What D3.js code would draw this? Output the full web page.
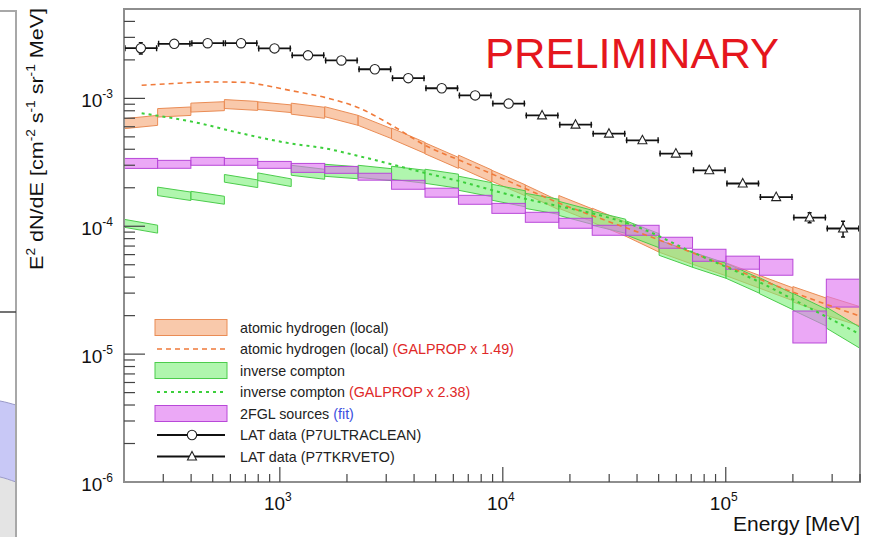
<!DOCTYPE html>
<html>
<head>
<meta charset="utf-8">
<script src="https://cdnjs.cloudflare.com/ajax/libs/d3/7.8.5/d3.min.js"></script>
<style>
  html, body { margin: 0; padding: 0; background: #fff; }
  svg { display: block; font-family: "Liberation Sans", Arial, Helvetica, sans-serif; }
</style>
</head>
<body>
<svg id="chart" width="871" height="537"></svg>
<script>
// histogram bin edges [MeV]
const binEdges = [200, 283, 399, 564, 796, 1125, 1589, 2244, 3170, 4477, 6325, 8933,
  12620, 17830, 25180, 35570, 50240, 70960, 100240, 141590, 200000, 282510, 399050];

// LAT data, E^2 dN/dE
const latUltraclean = [2.47e-3, 2.67e-3, 2.70e-3, 2.70e-3, 2.46e-3, 2.17e-3, 1.98e-3, 1.69e-3,
  1.44e-3, 1.20e-3, 1.055e-3, 9.1e-4];
const latUltracleanErr = [0.10, 0.02, 0.02, 0.02, 0.02, 0.02, 0.02, 0.02, 0.02, 0.02, 0.02, 0.02];
const latTkrveto = [7.36e-4, 6.23e-4, 5.3e-4, 4.70e-4, 3.70e-4, 2.74e-4, 2.16e-4, 1.69e-4, 1.17e-4, 9.6e-5];
const latTkrvetoErr = [0.02, 0.02, 0.02, 0.02, 0.02, 0.02, 0.03, 0.03, 0.09, 0.14];

// atomic hydrogen (local): band centre at bin left / right edge, half width in dex
const hiLeft = [6.34e-4, 7.71e-4, 8.47e-4, 9.03e-4, 8.77e-4, 8.31e-4, 7.87e-4, 6.73e-4, 5.31e-4, 4.07e-4,
  3.23e-4, 2.48e-4, 1.94e-4, 1.55e-4, 1.22e-4, 9.49e-5, 6.98e-5, 5.62e-5, 4.61e-5, 3.68e-5, 2.94e-5, 2.39e-5];
const hiRight = [6.73e-4, 7.94e-4, 8.69e-4, 8.73e-4, 8.30e-4, 7.71e-4, 6.73e-4, 5.30e-4, 4.10e-4, 3.13e-4,
  2.47e-4, 1.91e-4, 1.46e-4, 1.22e-4, 9.49e-5, 7.12e-5, 5.62e-5, 4.57e-5, 3.68e-5, 2.94e-5, 2.39e-5, 1.98e-5];
const hiWidth = [0.039, 0.033, 0.035, 0.035, 0.03, 0.043, 0.039, 0.039, 0.043, 0.043, 0.047,
  0.043, 0.035, 0.05, 0.055, 0.055, 0.047, 0.047, 0.05, 0.05, 0.06, 0.075];

// inverse compton
const icLeft = [1.055e-4, 1.875e-4, 1.746e-4, 2.37e-4, 2.44e-4, 2.74e-4, 2.74e-4, 2.69e-4, 2.62e-4, 2.46e-4,
  2.17e-4, 1.845e-4, 1.58e-4, 1.38e-4, 1.155e-4, 9.73e-5, 6.79e-5, 5.47e-5, 4.49e-5, 3.43e-5, 2.57e-5, 1.93e-5];
const icRight = [9.49e-5, 1.715e-4, 1.597e-4, 2.15e-4, 2.19e-4, 2.55e-4, 2.62e-4, 2.53e-4, 2.44e-4, 2.25e-4,
  1.93e-4, 1.64e-4, 1.42e-4, 1.175e-4, 1.0e-4, 7.71e-5, 5.47e-5, 4.49e-5, 3.43e-5, 2.57e-5, 1.93e-5, 1.345e-5];
const icWidth = [0.031, 0.033, 0.031, 0.03, 0.03, 0.039, 0.047, 0.047, 0.051, 0.055, 0.055,
  0.0625, 0.059, 0.055, 0.055, 0.055, 0.059, 0.059, 0.059, 0.0625, 0.066, 0.082];

// 2FGL sources (fit)
const srcValue = [3.10e-4, 3.05e-4, 3.22e-4, 3.19e-4, 3.02e-4, 2.86e-4, 2.76e-4, 2.44e-4, 2.11e-4, 1.83e-4,
  1.61e-4, 1.38e-4, 1.175e-4, 1.055e-4, 9.30e-5, 9.30e-5, 7.43e-5, 5.93e-5, 5.19e-5, 4.78e-5, 1.63e-5, 3.00e-5];
const srcWidth = [0.039, 0.031, 0.031, 0.027, 0.027, 0.035, 0.027, 0.027, 0.035, 0.035, 0.035,
  0.039, 0.039, 0.039, 0.039, 0.039, 0.043, 0.047, 0.051, 0.0625, 0.125, 0.109];

// GALPROP model curves
const hiGalE = [240, 340, 485, 700, 810, 1110, 1590, 2290, 3180, 4570, 6400, 9000, 12800, 18000,
  27200, 50600, 101000, 200000, 400000];
const hiGalV = [1.265e-3, 1.31e-3, 1.345e-3, 1.334e-3, 1.286e-3, 1.155e-3, 1.018e-3, 8.35e-4, 6.15e-4,
  4.22e-4, 3.28e-4, 2.55e-4, 1.95e-4, 1.51e-4, 1.155e-4, 7.78e-5, 4.87e-5, 3.05e-5, 1.98e-5];
const icGalE = [240, 438, 615, 1110, 1590, 2290, 3180, 4570, 6400, 9000, 12800, 18000, 25300, 38300,
  71100, 142000, 238000, 400000];
const icGalV = [7.64e-4, 6.38e-4, 5.52e-4, 4.45e-4, 4.07e-4, 3.52e-4, 3.05e-4, 2.59e-4, 2.25e-4, 1.91e-4,
  1.63e-4, 1.43e-4, 1.26e-4, 1.02e-4, 6.26e-5, 3.65e-5, 2.29e-5, 1.43e-5];

const xDomain = [200, 4e5];
const yDomain = [1e-6, 5e-3];

const legendItems = [
  { kind: "hi", text: "atomic hydrogen (local)", extra: "" },
  { kind: "hiGal", text: "atomic hydrogen (local) ", extra: "(GALPROP x 1.49)" },
  { kind: "ic", text: "inverse compton", extra: "" },
  { kind: "icGal", text: "inverse compton ", extra: "(GALPROP x 2.38)" },
  { kind: "src", text: "2FGL sources ", extra: "(fit)" },
  { kind: "uc", text: "LAT data (P7ULTRACLEAN)", extra: "" },
  { kind: "tv", text: "LAT data (P7TKRVETO)", extra: "" }
];

const svg = d3.select("#chart");
const frame = { left: 124, right: 860, top: 9, bottom: 482 };

const x = d3.scaleLog().domain(xDomain).range([frame.left, frame.right]);
const y = d3.scaleLog().domain(yDomain).range([frame.bottom, frame.top]);

const styles = {
  hi: { fill: "#f6b48a", opacity: 0.72, stroke: "#ea8c55" },
  ic: { fill: "#7cf078", opacity: 0.6, stroke: "#4ccc4c" },
  src: { fill: "#df72f0", opacity: 0.62, stroke: "#b848d8" }
};

// piece of the neighbouring panel cut off at the left
const side = svg.append("g");
side.append("path").attr("d", "M0,401 C6,402 12,404 16,405 L16,482 C10,480 5,478 0,477 Z")
  .attr("fill", "#c8c8f6");
side.append("path").attr("d", "M0,477 C5,478 10,480 16,482 L16,537 L0,537 Z").attr("fill", "#e4e4e4");
side.append("path").attr("d", "M0,401 C6,402 12,404 16,405").attr("fill", "none").attr("stroke", "#9a9ac8");
side.append("path").attr("d", "M0,477 C5,478 10,480 16,482").attr("fill", "none").attr("stroke", "#9a9ac8");
side.append("path").attr("d", "M0,11 H16 V537").attr("fill", "none").attr("stroke", "#a8a8a8").attr("stroke-width", 2);
side.append("line").attr("x1", 0).attr("x2", 16).attr("y1", 312).attr("y2", 312).attr("stroke", "#444").attr("stroke-width", 1.5);

const plot = svg.append("g");
const bins = binEdges.slice(0, -1).map((e0, i) => ({ e0, e1: binEdges[i + 1], i }));

function bandPath(lv, rv, w) {
  return d => {
    const f = Math.pow(10, w[d.i]);
    return `M${x(d.e0)},${y(lv[d.i] * f)}L${x(d.e1)},${y(rv[d.i] * f)}` +
      `L${x(d.e1)},${y(rv[d.i] / f)}L${x(d.e0)},${y(lv[d.i] / f)}Z`;
  };
}

// atomic hydrogen band
plot.append("g").selectAll("path").data(bins).join("path")
  .attr("d", bandPath(hiLeft, hiRight, hiWidth))
  .attr("fill", styles.hi.fill).attr("fill-opacity", styles.hi.opacity)
  .attr("stroke", styles.hi.stroke).attr("stroke-width", 1);

// inverse compton band
plot.append("g").selectAll("path").data(bins).join("path")
  .attr("d", bandPath(icLeft, icRight, icWidth))
  .attr("fill", styles.ic.fill).attr("fill-opacity", styles.ic.opacity)
  .attr("stroke", styles.ic.stroke).attr("stroke-width", 1);

// 2FGL sources
plot.append("g").selectAll("rect").data(bins).join("rect")
  .attr("x", d => x(d.e0))
  .attr("width", d => x(d.e1) - x(d.e0))
  .attr("y", d => y(srcValue[d.i] * Math.pow(10, srcWidth[d.i])))
  .attr("height", d => y(srcValue[d.i] / Math.pow(10, srcWidth[d.i])) - y(srcValue[d.i] * Math.pow(10, srcWidth[d.i])))
  .attr("fill", styles.src.fill).attr("fill-opacity", styles.src.opacity)
  .attr("stroke", styles.src.stroke).attr("stroke-width", 1);

// GALPROP curves
const line = d3.line().x(d => x(d[0])).y(d => y(d[1])).curve(d3.curveMonotoneX);
plot.append("path").datum(hiGalE.map((e, i) => [e, hiGalV[i]]))
  .attr("d", line).attr("fill", "none").attr("stroke", "#f07a3a")
  .attr("stroke-width", 1.6).attr("stroke-dasharray", "5,4");
plot.append("path").datum(icGalE.map((e, i) => [e, icGalV[i]]))
  .attr("d", line).attr("fill", "none").attr("stroke", "#3ccf3c")
  .attr("stroke-width", 2).attr("stroke-dasharray", "3,4");

// LAT points
const latPoints = latUltraclean.map((v, i) => ({ v, err: latUltracleanErr[i], marker: "circle" }))
  .concat(latTkrveto.map((v, i) => ({ v, err: latTkrvetoErr[i], marker: "triangle" })))
  .map((p, i) => Object.assign(p, { e0: binEdges[i], e1: binEdges[i + 1], e: Math.sqrt(binEdges[i] * binEdges[i + 1]) }));

const lat = plot.append("g").attr("stroke", "#111").attr("stroke-width", 1.8);
lat.selectAll(".hbar").data(latPoints).join("line").attr("class", "hbar")
  .attr("x1", d => x(d.e0)).attr("x2", d => x(d.e1))
  .attr("y1", d => y(d.v)).attr("y2", d => y(d.v));
lat.selectAll(".capl").data(latPoints).join("path").attr("class", "capl")
  .attr("d", d => `M${x(d.e0) + 1},${y(d.v) - 3}v6M${x(d.e1) - 1},${y(d.v) - 3}v6`)
  .attr("stroke-width", 1.4);
lat.selectAll(".vbar").data(latPoints.filter(d => d.err > 0.05)).join("path").attr("class", "vbar")
  .attr("d", d => `M${x(d.e)},${y(d.v * (1 + d.err))}V${y(d.v * (1 - d.err))}` +
    `M${x(d.e) - 2},${y(d.v * (1 + d.err))}h4M${x(d.e) - 2},${y(d.v * (1 - d.err))}h4`)
  .attr("stroke-width", 1.5);

function drawMarker(g, kind, cx, cy) {
  if (kind === "circle") {
    g.append("circle").attr("cx", cx).attr("cy", cy).attr("r", 4.7)
      .attr("fill", "#fff").attr("stroke", "#222").attr("stroke-width", 1.1);
  } else {
    g.append("path").attr("d", `M${cx},${cy - 5}L${cx + 4.5},${cy + 3.5}L${cx - 4.5},${cy + 3.5}Z`)
      .attr("fill", "#fff").attr("stroke", "#222").attr("stroke-width", 1.1);
  }
}
latPoints.forEach(d => drawMarker(plot, d.marker, x(d.e), y(d.v)));

// frame
svg.append("rect")
  .attr("x", frame.left).attr("y", frame.top)
  .attr("width", frame.right - frame.left).attr("height", frame.bottom - frame.top)
  .attr("fill", "none").attr("stroke", "#8e8e8e").attr("stroke-width", 2);

// ticks
const isMajor = v => Math.abs(Math.log10(v) - Math.round(Math.log10(v))) < 1e-6;
const axisG = svg.append("g").attr("stroke", "#444").attr("stroke-width", 1.2);
const xTicks = x.ticks().filter(v => v > xDomain[0] * 1.001 && v < xDomain[1] * 1.001);
axisG.selectAll(".xt").data(xTicks).join("line").attr("class", "xt")
  .attr("x1", d => x(d)).attr("x2", d => x(d))
  .attr("y1", frame.bottom).attr("y2", d => frame.bottom - (isMajor(d) ? 15 : 8));
const yTicks = y.ticks().filter(v => v > yDomain[0] * 1.001 && v < yDomain[1]);
axisG.selectAll(".yt").data(yTicks).join("line").attr("class", "yt")
  .attr("y1", d => y(d)).attr("y2", d => y(d))
  .attr("x1", frame.left).attr("x2", d => frame.left + (isMajor(d) ? 21 : 11));

// tick labels
const xLabels = x.ticks().filter(isMajor).filter(v => v > xDomain[0] && v < xDomain[1]);
xLabels.forEach(v => {
  const t = svg.append("text").attr("x", x(v) - 2).attr("y", 510)
    .attr("text-anchor", "middle").attr("font-size", 19).attr("fill", "#111");
  t.append("tspan").text("10");
  t.append("tspan").attr("dy", -9).attr("font-size", 12).text(Math.round(Math.log10(v)));
});
const yLabels = y.ticks().filter(isMajor);
yLabels.forEach(v => {
  const t = svg.append("text").attr("x", 113).attr("y", y(v) + 9)
    .attr("text-anchor", "end").attr("font-size", 19).attr("fill", "#111");
  t.append("tspan").text("10");
  t.append("tspan").attr("dy", -9).attr("font-size", 12).text(Math.round(Math.log10(v)));
});

// axis titles
svg.append("text").attr("x", frame.right).attr("y", 531)
  .attr("text-anchor", "end").attr("font-size", 19.5).attr("fill", "#111")
  .attr("textLength", 127).attr("lengthAdjust", "spacingAndGlyphs").text("Energy [MeV]");

const yt = svg.append("text").attr("transform", "translate(43,8) rotate(-90)")
  .attr("text-anchor", "end").attr("font-size", 19).attr("fill", "#111")
  .attr("textLength", 262).attr("lengthAdjust", "spacingAndGlyphs");
[["E", 0], ["2", 1], [" dN/dE [cm", 0], ["-2", 1], [" s", 0], ["-1", 1], [" sr", 0], ["-1", 1], [" MeV]", 0]]
  .forEach(([s, sup], i, arr) => {
    const prevSup = i > 0 && arr[i - 1][1];
    yt.append("tspan")
      .attr("dy", sup ? -8 : (prevSup ? 8 : 0))
      .attr("font-size", sup ? 12 : 19)
      .text(s);
  });

// PRELIMINARY
svg.append("text").attr("x", 485).attr("y", 68)
  .attr("font-size", 43).attr("fill", "#e5161d")
  .attr("textLength", 294).attr("lengthAdjust", "spacingAndGlyphs").text("PRELIMINARY");

// legend
const legend = svg.append("g");
const rowY = i => 327.5 + i * 21.5;
legendItems.forEach((it, i) => {
  const cy = rowY(i);
  const g = legend.append("g");
  if (it.kind === "hi" || it.kind === "ic" || it.kind === "src") {
    const s = styles[it.kind];
    g.append("rect").attr("x", 155).attr("y", cy - 8).attr("width", 72).attr("height", 16)
      .attr("fill", s.fill).attr("fill-opacity", s.opacity).attr("stroke", s.stroke).attr("stroke-width", 1);
  } else if (it.kind === "hiGal") {
    g.append("line").attr("x1", 157).attr("x2", 227).attr("y1", cy).attr("y2", cy)
      .attr("stroke", "#f07a3a").attr("stroke-width", 1.6).attr("stroke-dasharray", "5,4");
  } else if (it.kind === "icGal") {
    g.append("line").attr("x1", 157).attr("x2", 227).attr("y1", cy).attr("y2", cy)
      .attr("stroke", "#3ccf3c").attr("stroke-width", 2).attr("stroke-dasharray", "3,4");
  } else {
    g.append("line").attr("x1", 157).attr("x2", 225).attr("y1", cy).attr("y2", cy)
      .attr("stroke", "#111").attr("stroke-width", 1.8);
    drawMarker(g, it.kind === "uc" ? "circle" : "triangle", 192, cy);
  }
  const t = g.append("text").attr("x", 240).attr("y", cy + 5)
    .attr("font-size", 14.3).attr("fill", "#222");
  t.append("tspan").text(it.text);
  if (it.extra) {
    t.append("tspan").attr("fill", it.kind === "src" ? "#3a4fe0" : "#e02828").text(it.extra);
  }
});
</script>
</body>
</html>
